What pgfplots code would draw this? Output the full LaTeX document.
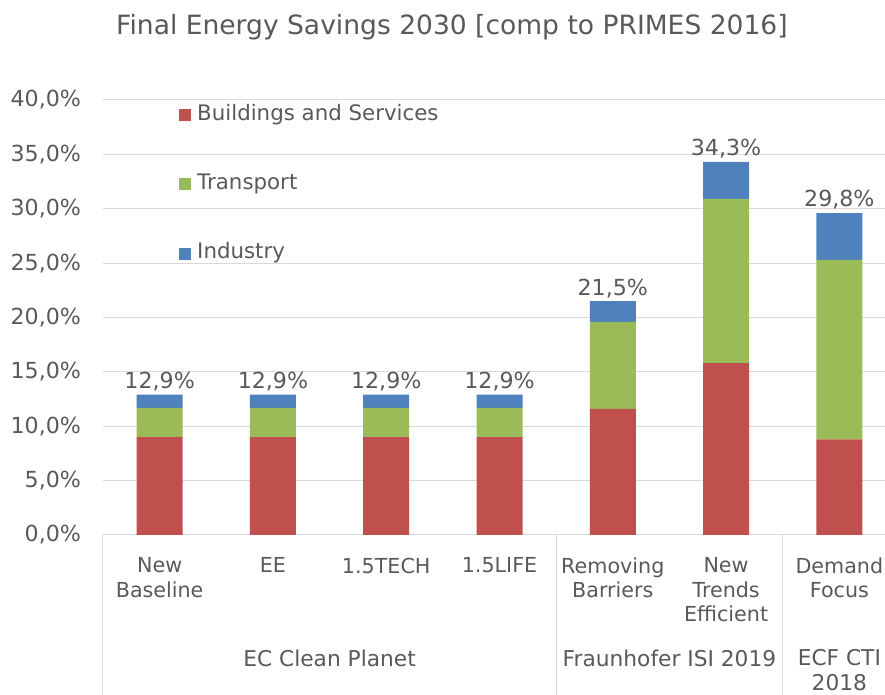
\documentclass[border=0pt]{standalone}
\usepackage{pgfplots}
\pgfplotsset{compat=1.18}
\usepackage{fontspec}
\setmainfont{DejaVu Sans}
\definecolor{cRed}{HTML}{C0504D}
\definecolor{cGreen}{HTML}{9BBB59}
\definecolor{cBlue}{HTML}{4F81BD}
\definecolor{txt}{HTML}{595959}
\definecolor{gridc}{HTML}{D9D9D9}
\newcommand{\lblfont}{\fontsize{15.5}{18.4}\selectfont}
\newcommand{\numfont}{\fontsize{16.6}{19.5}\selectfont}
\newcommand{\grpfont}{\fontsize{16.3}{18.4}\selectfont}
\begin{document}
\begin{tikzpicture}
\begin{axis}[
  scale only axis, width=594.75pt, height=326.25pt,
  xmin=-0.5, xmax=6.5, ymin=0, ymax=40,
  ybar stacked, bar width=34.5pt,
  axis line style={draw=none},
  ymajorgrids, grid style={gridc, line width=0.75pt},
  major tick length=0pt,
  ytick={0,5,...,40},
  yticklabels={{0,0\%},{5,0\%},{10,0\%},{15,0\%},{20,0\%},{25,0\%},{30,0\%},{35,0\%},{40,0\%}},
  yticklabel style={font=\numfont, text=txt, anchor=east, xshift=-13pt},
  xtick={0,...,6},
  xticklabels={{New\\Baseline},{EE},{1.5TECH},{1.5LIFE},{Removing\\Barriers},{New\\Trends\\Efficient},{Demand\\Focus}},
  xticklabel style={font=\lblfont, text=txt, align=center, anchor=north, yshift=-13.5pt},
  clip=false,
  title={Final Energy Savings 2030 [comp to PRIMES 2016]},
  title style={font=\fontsize{19.9}{23}\selectfont, text=txt, at={(0.44,1)}, anchor=center, yshift=48.5pt},
  legend style={draw=none, fill=none, inner sep=0pt, at={(0.0958,1)}, anchor=north west, yshift=-1.5pt,
    font=\fontsize{16}{19}\selectfont, text=txt, row sep=33pt, legend cell align=left,
    nodes={text height=12pt, text depth=4pt, inner sep=1.5pt}},
  legend image code/.code={\fill[#1] (0pt,-4.5pt) rectangle (9pt,4.5pt); \path (0pt,0pt) -- (12pt,0pt);},
]
\addplot[fill=cRed, draw=none] coordinates {(0,9.0) (1,9.0) (2,9.0) (3,9.0) (4,11.6) (5,15.8) (6,8.8)};
\addlegendentry{Buildings and Services}
\addplot[fill=cGreen, draw=none] coordinates {(0,2.7) (1,2.7) (2,2.7) (3,2.7) (4,8.0) (5,15.1) (6,16.5)};
\addlegendentry{Transport}
\addplot[fill=cBlue, draw=none] coordinates {(0,1.2) (1,1.2) (2,1.2) (3,1.2) (4,1.9) (5,3.4) (6,4.3)};
\addlegendentry{Industry}
\foreach \xx in {-0.5,3.5,5.5,6.5} {
  \edef\tmp{\noexpand\draw[gridc, line width=0.75pt] (axis cs:\xx,0) -- ([yshift=-120pt]axis cs:\xx,0);}\tmp
}
\node[font=\grpfont, text=txt] at ([yshift=-92.25pt]axis cs:1.5,0) {EC Clean Planet};
\node[font=\grpfont, text=txt] at ([yshift=-92.25pt]axis cs:4.5,0) {Fraunhofer ISI 2019};
\node[font=\grpfont, text=txt, align=center] at ([yshift=-101.25pt]axis cs:6,0) {ECF CTI\\2018};
\coordinate (SW) at (rel axis cs:0,0);
\end{axis}
\begin{axis}[
  scale only axis, width=594.75pt, height=326.25pt,
  xmin=-0.5, xmax=6.5, ymin=0, ymax=40, hide axis, clip=false,
]
\addplot[draw=none, mark=none, nodes near coords, point meta=explicit symbolic,
  every node near coord/.append style={font=\numfont, text=txt, anchor=south, inner sep=2.5pt}]
  coordinates {
  (0,12.9) [12,9\%] (1,12.9) [12,9\%] (2,12.9) [12,9\%] (3,12.9) [12,9\%]
  (4,21.5) [21,5\%] (5,34.3) [34,3\%] (6,29.6) [29,8\%]};
\end{axis}
\pgfresetboundingbox
\path ([shift={(-77.25pt,-120pt)}]SW) rectangle ([shift={(586.5pt,401.25pt)}]SW);
\end{tikzpicture}
\end{document}
